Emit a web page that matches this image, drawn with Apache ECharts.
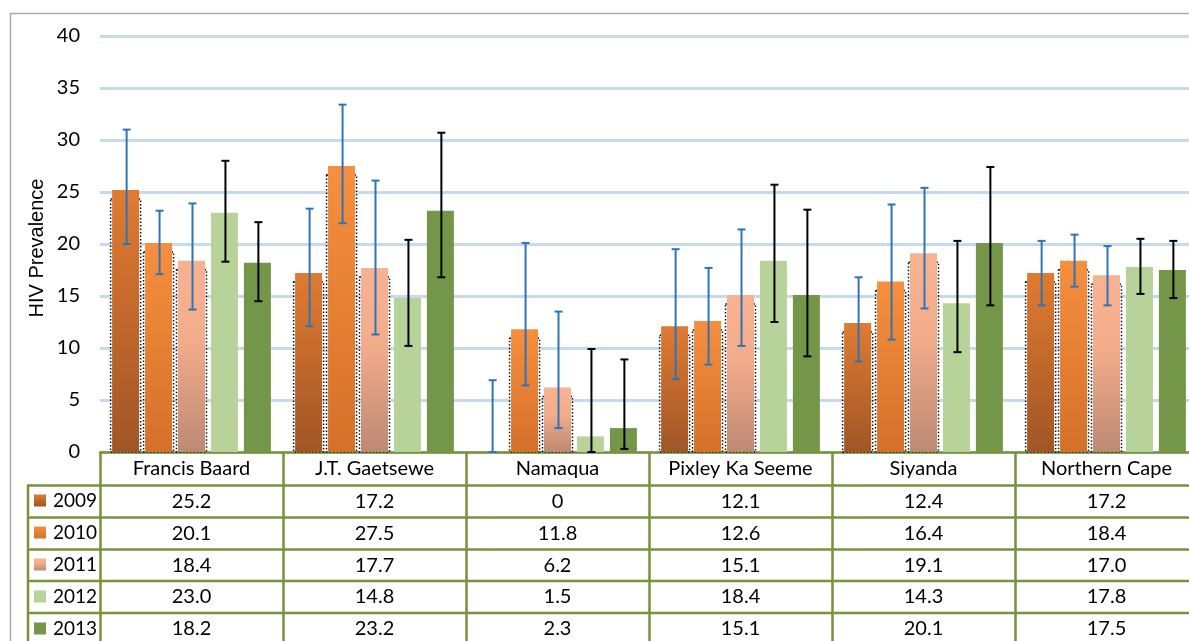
<!DOCTYPE html>
<html>
<head>
<meta charset="utf-8">
<script src="https://cdn.jsdelivr.net/npm/echarts@6/dist/echarts.min.js"></script>
<style>
html,body{margin:0;padding:0;background:#fff;}
#c{width:1189px;height:641px;}
</style>
</head>
<body>
<div id="c"></div>
<script>
const categories = ['Francis Baard','J.T. Gaetsewe','Namaqua','Pixley Ka Seeme','Siyanda','Northern Cape'];
const years = ['2009','2010','2011','2012','2013'];
const v2009 = [25.2,17.2,0,12.1,12.4,17.2];
const v2010 = [20.1,27.5,11.8,12.6,16.4,18.4];
const v2011 = [18.4,17.7,6.2,15.1,19.1,17.0];
const v2012 = [23.0,14.8,1.5,18.4,14.3,17.8];
const v2013 = [18.2,23.2,2.3,15.1,20.1,17.5];
// error bar lower / upper limits
const lo2009 = [20.0,12.1,0,7.0,8.7,14.1];
const hi2009 = [31.0,23.4,6.9,19.5,16.8,20.3];
const lo2010 = [17.1,22.0,6.4,8.4,10.8,15.9];
const hi2010 = [23.2,33.4,20.1,17.7,23.8,20.9];
const lo2011 = [13.7,11.3,2.3,10.2,13.8,14.1];
const hi2011 = [23.9,26.1,13.5,21.4,25.4,19.8];
const lo2012 = [18.3,10.2,0,12.5,9.6,15.2];
const hi2012 = [28.0,20.4,9.9,25.7,20.3,20.5];
const lo2013 = [14.5,16.8,0.3,9.2,14.1,14.8];
const hi2013 = [22.1,30.7,8.9,23.3,27.4,20.3];
const yTicks = {min:0, max:40, interval:5};
const yTitle = 'HIV Prevalence';

const values = [v2009,v2010,v2011,v2012,v2013];
const lows = [lo2009,lo2010,lo2011,lo2012,lo2013];
const highs = [hi2009,hi2010,hi2011,hi2012,hi2013];

const GREEN = '#77933C';
const FONT = 'Lato';
function grad(top, bottom){
  return new echarts.graphic.LinearGradient(0,0,0,1,[{offset:0,color:top},{offset:1,color:bottom}]);
}
const colors = [
  grad('#E07B31','#A15526'),
  grad('#F68F3E','#D5702A'),
  new echarts.graphic.LinearGradient(0,0,0,1,[{offset:0,color:'#F7B292'},{offset:0.4,color:'#F4AD8B'},{offset:1,color:'#BE8973'}]),
  '#B7D39A',
  '#739648'
];
const errColors = ['#2E75B6','#2E75B6','#2E75B6','#000000','#000000'];
const BARW = 27, GAP = 0.22;
const PITCH = BARW*(1+GAP);

function fmt(v){ return v === 0 ? '0' : v.toFixed(1); }

const series = [];
// dotted outlines (shadow-like) behind first three series
for (let s=0; s<3; s++){
  series.push({
    type:'custom', name:'outline'+years[s], z:1, silent:true,
    data: values[s].map((v,i)=>[i,v]),
    renderItem: function(params, api){
      const cat = api.value(0), v = api.value(1);
      const base = api.coord([cat,0]);
      const top = api.coord([cat,v])[1] + 9;
      const x = base[0] + (s-2)*PITCH - BARW/2 - 1.5;
      if (base[1]-top <= 0) return null;
      return {type:'rect', shape:{x:x, y:top, width:BARW+3, height:base[1]-top},
        style:{fill:null, stroke:'#111', lineWidth:1.5, lineDash:[1.5,2]}};
    }
  });
}
years.forEach((y,s)=>{
  series.push({
    type:'bar', name:y, z:2, barWidth:BARW, barGap:(GAP*100)+'%',
    itemStyle:{color:colors[s]},
    data: values[s]
  });
});
years.forEach((y,s)=>{
  series.push({
    type:'custom', name:'err'+y, z:3, silent:true,
    data: lows[s].map((l,i)=>[i,l,highs[s][i]]),
    renderItem: function(params, api){
      const cat = api.value(0);
      const base = api.coord([cat,0]);
      const x = base[0] + (s-2)*PITCH + 1;
      const yl = api.coord([cat, api.value(1)])[1];
      const yh = api.coord([cat, api.value(2)])[1];
      const w = 4, st = {stroke:errColors[s], lineWidth:2};
      return {type:'group', children:[
        {type:'line', shape:{x1:x,y1:yh,x2:x,y2:yl}, style:st},
        {type:'line', shape:{x1:x-w,y1:yh,x2:x+w,y2:yh}, style:st},
        {type:'line', shape:{x1:x-w,y1:yl,x2:x+w,y2:yl}, style:st}
      ]};
    }
  });
});

const chart = echarts.init(document.getElementById('c'));
const option = {
  animation:false,
  backgroundColor:'#fff',
  grid:{left:100, width:1098, top:36, height:416, outerBoundsMode:'none', containLabel:false},
  xAxis:{
    type:'category', data:categories,
    axisLine:{lineStyle:{color:GREEN, width:2.5}},
    axisTick:{show:true, interval:0, length:192, lineStyle:{color:GREEN, width:2.5}},
    axisLabel:{interval:0, hideOverlap:false, color:'#000', fontFamily:FONT, fontSize:20, margin:7}
  },
  yAxis:{
    type:'value', min:yTicks.min, max:yTicks.max, interval:yTicks.interval,
    axisLine:{show:false}, axisTick:{show:false},
    axisLabel:{color:'#000', fontFamily:FONT, fontSize:20, margin:20},
    splitLine:{lineStyle:{color:'#C5DAEF', width:3}}
  },
  legend:{
    data:years, orient:'vertical', left:34, top:491, itemWidth:12, itemHeight:12,
    itemGap:13, selectedMode:false, icon:'rect', padding:0,
    textStyle:{color:'#000', fontFamily:FONT, fontSize:19, padding:[0,0,0,2]}
  },
  series:series
};
chart.setOption(option);

// table and frame
const rowLines = [485.5, 517.5, 549.5, 581, 613];
const g = [];
g.push({type:'rect', z:0, shape:{x:10.5, y:13.5, width:1300, height:800}, style:{fill:null, stroke:'#ABABAB', lineWidth:1.5}});
g.push({type:'text', z:10, x:37, y:248, rotation:Math.PI/2,
  style:{text:yTitle, fontFamily:'Liberation Sans', fontSize:20, fill:'#000', align:'center', verticalAlign:'middle'}});
rowLines.forEach(y=>{
  g.push({type:'line', z:10, shape:{x1:27, y1:y, x2:1300, y2:y}, style:{stroke:GREEN, lineWidth:2.5}});
});
g.push({type:'line', z:10, shape:{x1:28, y1:rowLines[0], x2:28, y2:700}, style:{stroke:GREEN, lineWidth:2.5}});
categories.forEach((c,i)=>{
  const cx = chart.convertToPixel({xAxisIndex:0}, i);
  values.forEach((arr,s)=>{
    const top = rowLines[s];
    const bottom = s < rowLines.length-1 ? rowLines[s+1] : top + 32;
    g.push({type:'text', z:10, x:cx, y:(top+bottom)/2,
      style:{text:fmt(arr[i]), fontFamily:FONT, fontSize:20, fill:'#000', align:'center', verticalAlign:'middle'}});
  });
});
chart.setOption({graphic:g});
</script>
</body>
</html>
